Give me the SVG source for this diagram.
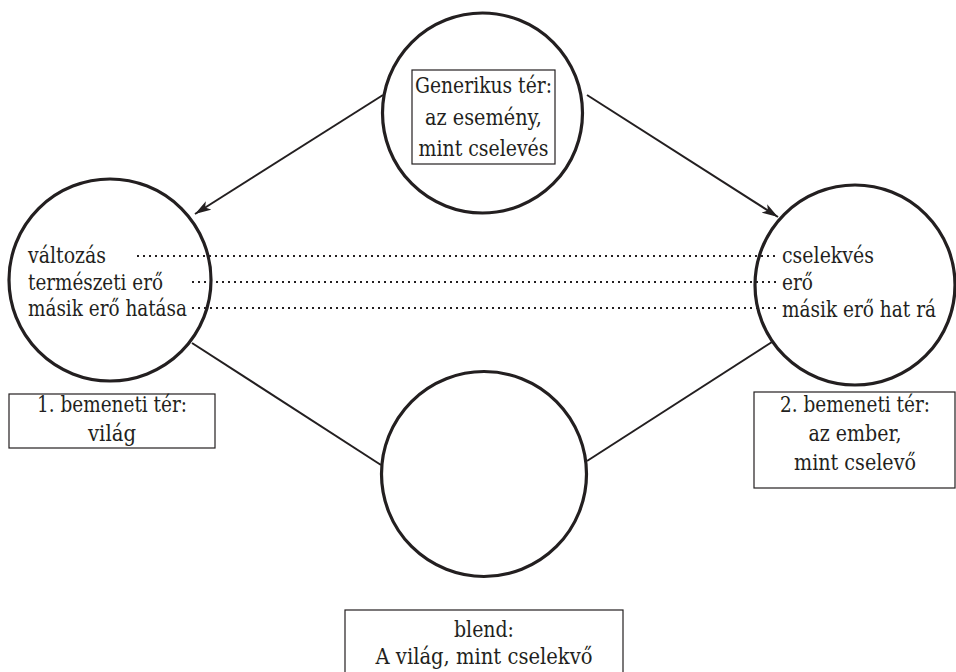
<svg xmlns="http://www.w3.org/2000/svg" width="956" height="672" viewBox="0 0 956 672">
<style>
.c{fill:#fff;stroke:#231f20;stroke-width:3.2}
.b{fill:#fff;stroke:#231f20;stroke-width:1.2}
.a{stroke:#231f20;stroke-width:2;fill:none}
.d{stroke:#231f20;stroke-width:2;stroke-dasharray:2 4;fill:none}
</style>
<defs>
<marker id="ah" viewBox="0 0 16 10" refX="16" refY="5" markerWidth="16" markerHeight="10" markerUnits="userSpaceOnUse" orient="auto">
<path d="M0,0 L16,5 L0,10 L4,5 Z" fill="#231f20"/>
</marker>
</defs>
<rect width="956" height="672" fill="#fff"/>
<g id="connectors">
<line class="a" x1="383" y1="95" x2="195" y2="214" marker-end="url(#ah)"/>
<line class="a" x1="587" y1="95" x2="778" y2="217" marker-end="url(#ah)"/>
<line class="a" x1="192" y1="343" x2="381" y2="465"/>
<line class="a" x1="587" y1="461" x2="772" y2="342"/>
</g>
<g font-family="DejaVu Serif, serif" font-size="22" fill="#231f20">
<g id="generic">
<circle class="c" cx="482.5" cy="113" r="100"/>
<rect class="b" x="412" y="70" width="143" height="94"/>
<text text-anchor="middle" x="483.5" y="93" textLength="137" lengthAdjust="spacingAndGlyphs">Generikus tér:</text>
<text text-anchor="middle" x="483.5" y="125" textLength="117" lengthAdjust="spacingAndGlyphs">az esemény,</text>
<text text-anchor="middle" x="483.5" y="156" textLength="130" lengthAdjust="spacingAndGlyphs">mint cselevés</text>
</g>
<g id="input1">
<circle class="c" cx="110" cy="280" r="101"/>
<text x="28" y="263" textLength="78" lengthAdjust="spacingAndGlyphs">változás</text>
<text x="28" y="290" textLength="135" lengthAdjust="spacingAndGlyphs">természeti erő</text>
<text x="28" y="316" textLength="159" lengthAdjust="spacingAndGlyphs">másik erő hatása</text>
</g>
<g id="input2">
<circle class="c" cx="855" cy="285" r="100"/>
<text x="782" y="263" textLength="92" lengthAdjust="spacingAndGlyphs">cselekvés</text>
<text x="782" y="290" textLength="31" lengthAdjust="spacingAndGlyphs">erő</text>
<text x="782" y="317" textLength="154" lengthAdjust="spacingAndGlyphs">másik erő hat rá</text>
</g>
<g id="blend">
<circle class="c" cx="484" cy="474" r="102.5"/>
</g>
<g id="label1">
<rect class="b" x="9" y="394" width="206" height="54"/>
<text text-anchor="middle" x="112" y="412" textLength="150" lengthAdjust="spacingAndGlyphs">1. bemeneti tér:</text>
<text text-anchor="middle" x="112" y="441" textLength="48" lengthAdjust="spacingAndGlyphs">világ</text>
</g>
<g id="label2">
<rect class="b" x="754" y="392" width="201" height="96"/>
<text text-anchor="middle" x="855" y="412" textLength="150" lengthAdjust="spacingAndGlyphs">2. bemeneti tér:</text>
<text text-anchor="middle" x="855" y="441" textLength="93" lengthAdjust="spacingAndGlyphs">az ember,</text>
<text text-anchor="middle" x="855" y="470" textLength="122" lengthAdjust="spacingAndGlyphs">mint cselevő</text>
</g>
<g id="label-blend">
<rect class="b" x="345" y="610" width="278" height="70"/>
<text text-anchor="middle" x="484" y="637" textLength="60" lengthAdjust="spacingAndGlyphs">blend:</text>
<text text-anchor="middle" x="484" y="664" textLength="217" lengthAdjust="spacingAndGlyphs">A világ, mint cselekvő</text>
</g>
</g>
<g id="mappings">
<line class="d" x1="137" y1="256" x2="778" y2="256"/>
<line class="d" x1="192" y1="282" x2="778" y2="282"/>
<line class="d" x1="192" y1="308" x2="778" y2="308"/>
</g>
</svg>
